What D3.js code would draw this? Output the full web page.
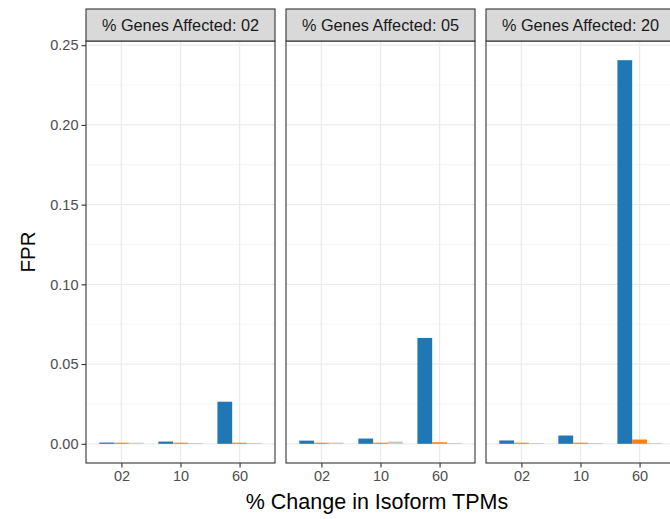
<!DOCTYPE html>
<html>
<head>
<meta charset="utf-8">
<title>FPR</title>
<script src="https://d3js.org/d3.v7.min.js"></script>
<style>
  body { margin: 0; background: #fff; }
  text { font-family: "Liberation Sans", Arial, Helvetica, sans-serif; }
</style>
</head>
<body>
<script>
// data
var facets = ["02", "05", "20"];
var categories = ["02", "10", "60"];
var series = ["method1", "method2", "method3"];
var colors = ["#1f77b4", "#ff7f0e", "#c7c7c7"];

var method1 = { "02": [0.0008, 0.0014, 0.0264], "05": [0.0020, 0.0033, 0.0664], "20": [0.0021, 0.0052, 0.2406] };
var method2 = { "02": [0.0007, 0.0007, 0.0007], "05": [0.0007, 0.0007, 0.0010], "20": [0.0007, 0.0007, 0.0027] };
var method3 = { "02": [0.0007, 0.0005, 0.0005], "05": [0.0008, 0.0014, 0.0005], "20": [0.0005, 0.0005, 0.0005] };
var seriesVals = [method1, method2, method3];

var yTicks = [0, 0.05, 0.10, 0.15, 0.20, 0.25];
var yMinor = [0.025, 0.075, 0.125, 0.175, 0.225];

var W = 670, H = 519;
var plotTop = 41, plotBottom = 463, plotLeft = 86, panelW = 189, gap = 11, stripH = 32;

var svg = d3.select("body").append("svg")
  .attr("width", W)
  .attr("height", H);

var maxV = d3.max(seriesVals, function(s) { return d3.max(facets, function(f) { return d3.max(s[f]); }); });
var y = d3.scaleLinear()
  .domain([-0.05 * maxV, maxV * 1.05])
  .range([plotBottom, plotTop]);

var x = d3.scalePoint()
  .domain(categories)
  .range([0, panelW])
  .padding(0.6);

var unit = x.step();
var xs = d3.scaleBand()
  .domain(series)
  .range([-0.375 * unit, 0.375 * unit]);

facets.forEach(function(f, fi) {
  var px = plotLeft + fi * (panelW + gap);
  var g = svg.append("g").attr("transform", "translate(" + px + ",0)");

  g.append("rect")
    .attr("x", 0).attr("y", plotTop)
    .attr("width", panelW).attr("height", plotBottom - plotTop)
    .attr("fill", "#fff");

  // grid
  g.selectAll("line.minor").data(yMinor).enter().append("line")
    .attr("x1", 0).attr("x2", panelW)
    .attr("y1", function(d) { return y(d); }).attr("y2", function(d) { return y(d); })
    .attr("stroke", "#f2f2f2").attr("stroke-width", 0.8);
  g.selectAll("line.major").data(yTicks).enter().append("line")
    .attr("x1", 0).attr("x2", panelW)
    .attr("y1", function(d) { return y(d); }).attr("y2", function(d) { return y(d); })
    .attr("stroke", "#ebebeb").attr("stroke-width", 1.3);
  g.selectAll("line.xgrid").data(categories).enter().append("line")
    .attr("x1", function(d) { return x(d); }).attr("x2", function(d) { return x(d); })
    .attr("y1", plotTop).attr("y2", plotBottom)
    .attr("stroke", "#ebebeb").attr("stroke-width", 1.3);

  // bars
  series.forEach(function(s, si) {
    g.selectAll("rect.s" + si)
      .data(seriesVals[si][f])
      .enter().append("rect")
      .attr("x", function(d, i) { return x(categories[i]) + xs(s); })
      .attr("width", xs.bandwidth())
      .attr("y", function(d) { return y(d); })
      .attr("height", function(d) { return y(0) - y(d); })
      .attr("fill", colors[si]);
  });

  // panel border
  g.append("rect")
    .attr("x", 0).attr("y", plotTop)
    .attr("width", panelW).attr("height", plotBottom - plotTop)
    .attr("fill", "none").attr("stroke", "#333").attr("stroke-width", 1.1);

  // strip
  g.append("rect")
    .attr("x", 0).attr("y", plotTop - stripH)
    .attr("width", panelW).attr("height", stripH)
    .attr("fill", "#d9d9d9").attr("stroke", "#333").attr("stroke-width", 1.1);
  g.append("text")
    .attr("x", panelW / 2).attr("y", plotTop - stripH / 2)
    .attr("dy", "0.36em")
    .attr("text-anchor", "middle")
    .attr("font-size", 16.3)
    .attr("fill", "#1a1a1a")
    .text("% Genes Affected: " + f);

  // x axis
  var xa = g.append("g").attr("transform", "translate(0," + plotBottom + ")")
    .call(d3.axisBottom(x).tickSize(4.5).tickPadding(3));
  xa.attr("font-size", 14.5).attr("font-family", "Liberation Sans, Arial, sans-serif");
  xa.select(".domain").remove();
  xa.selectAll("line").attr("stroke", "#333").attr("stroke-width", 1.1);
  xa.selectAll("text").attr("fill", "#4d4d4d");
});

// y axis on first panel
var ya = svg.append("g").attr("transform", "translate(" + plotLeft + ",0)")
  .call(d3.axisLeft(y).tickValues(yTicks).tickFormat(d3.format(".2f")).tickSize(4.5).tickPadding(3));
ya.attr("font-size", 14.5).attr("font-family", "Liberation Sans, Arial, sans-serif");
ya.select(".domain").remove();
ya.selectAll("line").attr("stroke", "#333").attr("stroke-width", 1.1);
ya.selectAll("text").attr("fill", "#4d4d4d");

// axis titles
svg.append("text")
  .attr("x", 377).attr("y", 509)
  .attr("text-anchor", "middle")
  .attr("font-size", 21.5)
  .attr("fill", "#000")
  .text("% Change in Isoform TPMs");

svg.append("text")
  .attr("transform", "translate(35," + (plotTop + plotBottom) / 2 + ") rotate(-90)")
  .attr("text-anchor", "middle")
  .attr("font-size", 20.5)
  .attr("fill", "#000")
  .text("FPR");
</script>
</body>
</html>
